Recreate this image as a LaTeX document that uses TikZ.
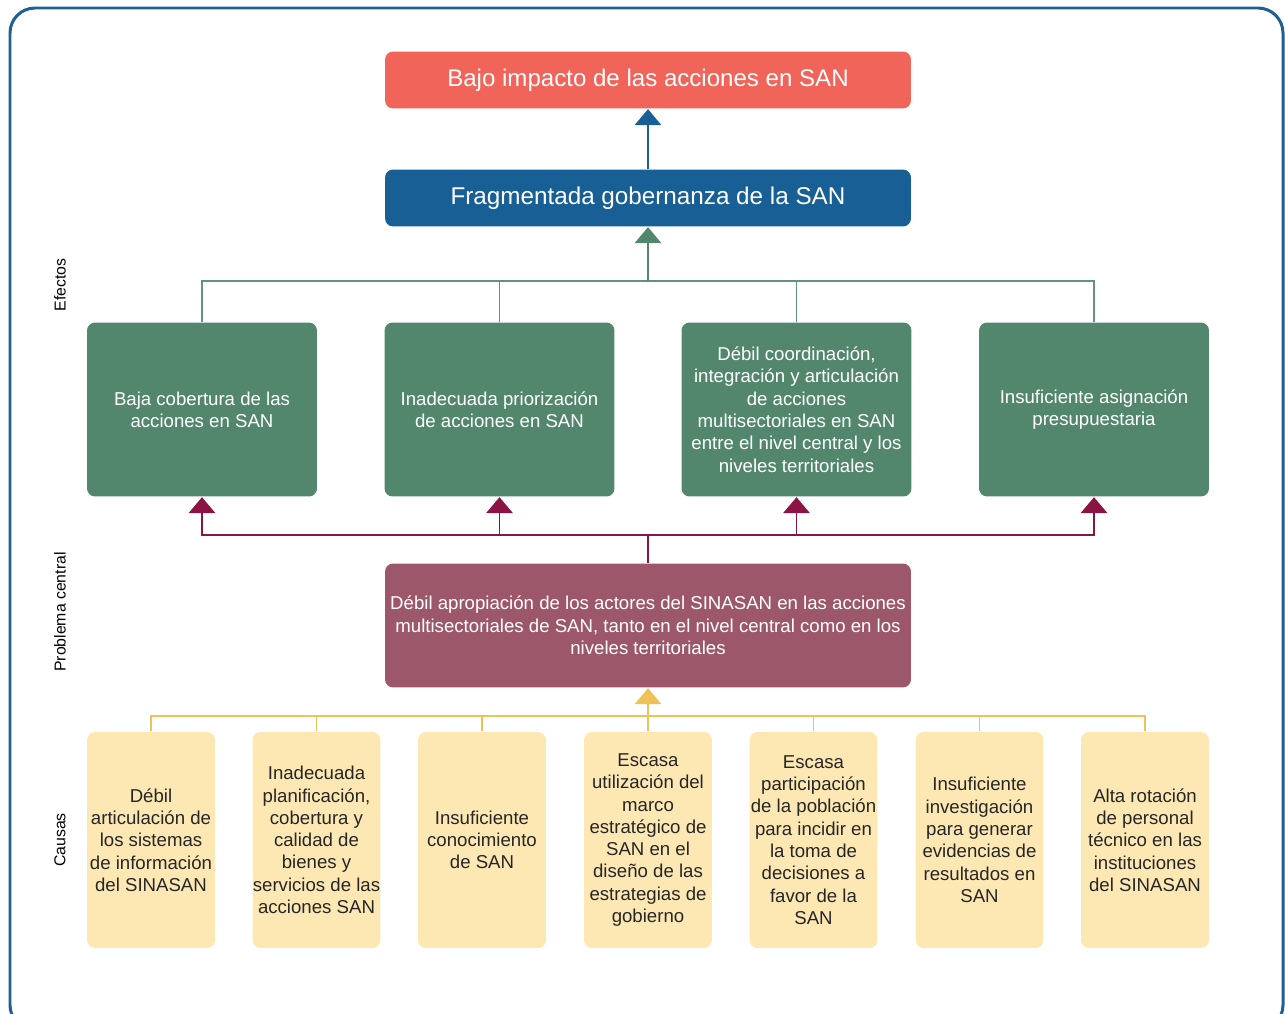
\documentclass[tikz,border=0pt]{standalone}
\usepackage{fontspec}
\setmainfont{Liberation Sans}
\usetikzlibrary{arrows.meta}
\definecolor{marco}{HTML}{1F5F94}
\definecolor{rojo}{HTML}{F0645A}
\definecolor{azul}{HTML}{175F94}
\definecolor{verde}{HTML}{52876E}
\definecolor{guinda}{HTML}{8B1444}
\definecolor{morado}{HTML}{9C586A}
\definecolor{oro}{HTML}{EDC257}
\definecolor{crema}{HTML}{FDE8B4}

\tikzset{
	caja/.style={rounded corners=0.16cm, inner sep=0pt, align=center},
	efecto/.style={caja, fill=verde, text=white, minimum width=4.6cm, minimum height=3.48cm, font=\fontsize{10.6}{12.7}\selectfont},
	causa/.style={caja, fill=crema, text=black!85, minimum width=2.56cm, minimum height=4.32cm, font=\fontsize{10.6}{12.7}\selectfont},
	punta/.style={-{Triangle[width=15pt,length=9pt]}},
	eje/.style={rotate=90, font=\fontsize{9}{10}\selectfont}
}

\begin{document}
\begin{tikzpicture}[x=0.02cm, y=-0.02cm, line width=0.8pt]
		\useasboundingbox (0,0) rectangle (1285,1014);
		\begin{scope}
			\clip (0,0) rectangle (1285,1014);
			\draw[marco, line width=1.7pt, rounded corners=0.5cm] (10,8) rectangle (1283,1030);
		\end{scope}

		\node[eje] (efectos) at (60,285) {Efectos};
		\node[eje] (problema) at (60,612) {Problema central};
		\node[eje] (causas) at (60,840) {Causas};

		\node[caja, fill=rojo, text=white, minimum width=10.52cm, minimum height=1.14cm, font=\fontsize{13.7}{15}\selectfont] (impacto) at (648,80) {Bajo impacto de las acciones en SAN};
		\node[caja, fill=azul, text=white, minimum width=10.52cm, minimum height=1.14cm, font=\fontsize{13.8}{15}\selectfont] (gob) at (648,198) {Fragmentada gobernanza de la SAN};
		\draw[punta, azul] (gob.north) -- (impacto.south);

		\foreach \x/\t [count=\i] in {
			202/{Baja cobertura de las\\acciones en SAN},
			499.5/{Inadecuada priorización\\de acciones en SAN},
			796.5/{Débil coordinación,\\integración y articulación\\de acciones\\multisectoriales en SAN\\entre el nivel central y los\\niveles territoriales},
			1094/{Insuficiente asignación\\presupuestaria}}
			\node[efecto] (e\i) at (\x,409.5) {\t};

		\coordinate (ebus) at (648,281);
		\foreach \i in {1,...,4}
			\draw[verde!90!white] (e\i.north) |- (ebus);
		\draw[punta, verde] (ebus) -- (gob.south);

		\node[caja, fill=morado, text=white, minimum width=10.52cm, minimum height=2.48cm, font=\fontsize{10.6}{12.7}\selectfont] (cen) at (648,625.5) {Débil apropiación de los actores del SINASAN en las acciones\\multisectoriales de SAN, tanto en el nivel central como en los\\niveles territoriales};

		\coordinate (pbus) at (648,535);
		\draw[guinda] (cen.north) -- (pbus);
		\foreach \i in {1,...,4}
			\draw[punta, guinda] (pbus) -| (e\i.south);

		\foreach \x/\t [count=\i] in {
			151/{Débil\\articulación de\\los sistemas\\de información\\del SINASAN},
			316.5/{Inadecuada\\planificación,\\cobertura y\\calidad de\\bienes y\\servicios de las\\acciones SAN},
			482/{Insuficiente\\conocimiento\\de SAN},
			648/{Escasa\\utilización del\\marco\\estratégico de\\SAN en el\\diseño de las\\estrategias de\\gobierno},
			813.5/{Escasa\\participación\\de la población\\para incidir en\\la toma de\\decisiones a\\favor de la\\SAN},
			979.5/{Insuficiente\\investigación\\para generar\\evidencias de\\resultados en\\SAN},
			1145/{Alta rotación\\de personal\\técnico en las\\instituciones\\del SINASAN}}
			\node[causa] (c\i) at (\x,840) {\t};

		\coordinate (cbus) at (648,716);
		\foreach \i in {1,...,7}
			\draw[oro] (c\i.north) |- (cbus);
		\draw[punta, oro] (cbus) -- (cen.south);
	\end{tikzpicture}
\end{document}
